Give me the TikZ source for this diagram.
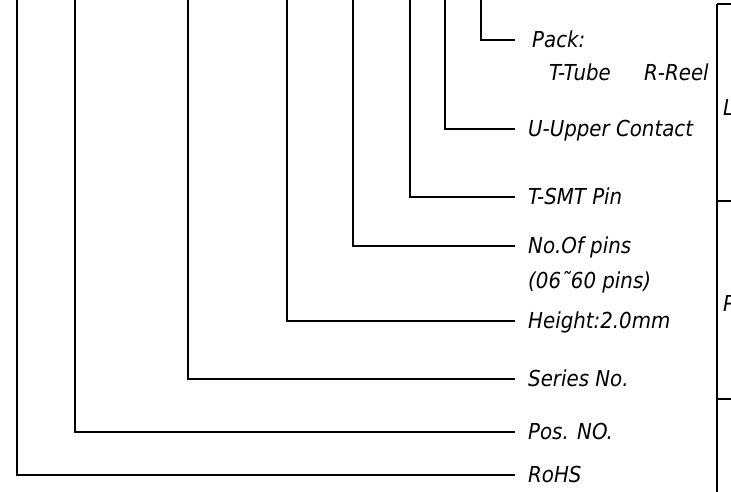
\documentclass[tikz,border=0pt]{standalone}
\usepackage{fontspec}
\newfontfamily\cadfont{DejaVu Sans Condensed}
\begin{document}
\begin{tikzpicture}[x=1pt,y=-1pt,
  lead/.style={line width=1.7pt},
  lbl/.style={anchor=base west, inner sep=0pt, font=\cadfont\itshape\fontsize{22}{26}\selectfont}]
\useasboundingbox (0,0) rectangle (731,492);
% labels
\node[lbl] (rohs) at (528,482.5) {RoHS};
\node[lbl] (pos) at (528,439.5) {Pos. NO.};
\node[lbl] (ser) at (528,386.5) {Series No.};
\node[lbl] (hgt) at (528,328.5) {Height:2.0mm};
\node[lbl] (pins) at (528,253.5) {No.Of pins};
\node[lbl] (range) at (528,288) {(06˜60 pins)};
\node[lbl] (smt) at (528,204.5) {T-SMT Pin};
\node[lbl] (upc) at (528,136.5) {U-Upper Contact};
\node[lbl] (pack) at (532,48) {Pack:};
\node[lbl] (tube) at (549,81) {T-Tube};
\node[lbl] (reel) at (644,81) {R-Reel};
% lead coordinates
\foreach \n/\x/\y in {a/17/475, b/75/432, c/188/379, d/287/321, e/353/246, f/410/197, g/445/129, h/481/40}{
  \coordinate (t\n) at (\x,-2);
  \coordinate (e\n) at (515,\y);
  \draw[lead] (t\n) |- (e\n);
}
% right table edge
\coordinate (r0) at (717,4);
\coordinate (r1) at (717,201);
\coordinate (r2) at (717,399);
\coordinate (rb) at (717,494);
\coordinate (s0) at (733,4);
\coordinate (s1) at (733,201);
\coordinate (s2) at (733,399);
\draw[lead] (r0) -- (rb);
\draw[lead] (r0) -- (s0);
\draw[lead] (r1) -- (s1);
\draw[lead] (r2) -- (s2);
\node[lbl] (cutL) at (723,116) {L};
\node[lbl] (cutP) at (723,311) {P};
\end{tikzpicture}
\end{document}
